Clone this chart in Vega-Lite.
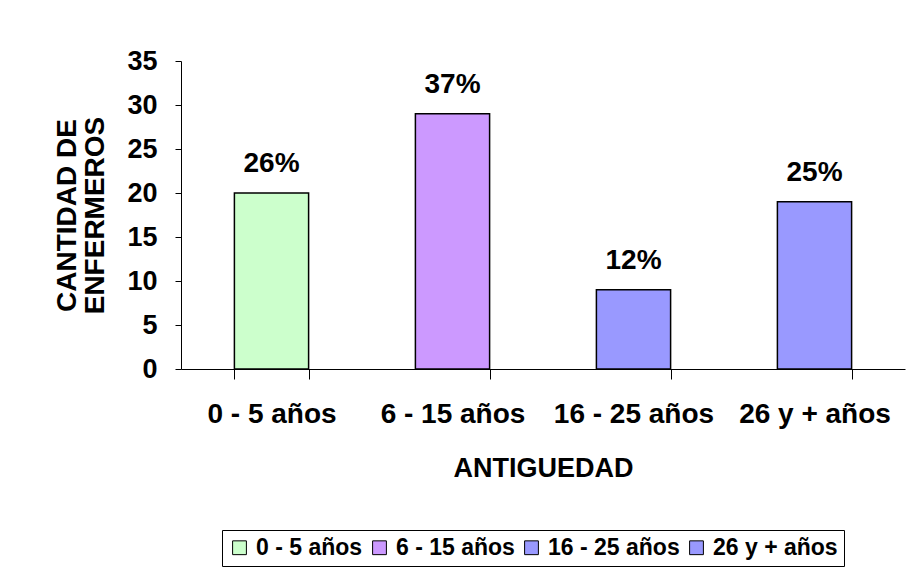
{
  "$schema": "https://vega.github.io/schema/vega-lite/v6.json",
  "autosize": "none",
  "width": 724,
  "height": 308,
  "padding": {"left": 181, "top": 61, "right": 1, "bottom": 199},
  "background": "white",
  "config": {
    "font": "Liberation Sans",
    "view": {"stroke": null},
    "axis": {"labelFont": "Liberation Sans", "titleFont": "Liberation Sans"}
  },
  "data": {
    "values": [
      {"antiguedad": "0 - 5 años", "cantidad": 20, "porcentaje": "26%"},
      {"antiguedad": "6 - 15 años", "cantidad": 29, "porcentaje": "37%"},
      {"antiguedad": "16 - 25 años", "cantidad": 9, "porcentaje": "12%"},
      {"antiguedad": "26 y + años", "cantidad": 19, "porcentaje": "25%"}
    ]
  },
  "encoding": {
    "x": {
      "field": "antiguedad",
      "type": "nominal",
      "sort": null,
      "scale": {"paddingInner": 0.59, "paddingOuter": 0.295},
      "axis": {
        "title": "ANTIGUEDAD",
        "titleFontSize": 27,
        "titleFontWeight": "bold",
        "titleColor": "black",
        "titlePadding": 27,
        "labelAngle": 0,
        "labelFontSize": 28,
        "labelFontWeight": "bold",
        "labelColor": "black",
        "labelPadding": 21,
        "tickBand": "extent",
        "tickSize": 10,
        "tickColor": "black",
        "domainColor": "black",
        "grid": false
      }
    },
    "y": {
      "field": "cantidad",
      "type": "quantitative",
      "scale": {"domain": [0, 35]},
      "axis": {
        "title": ["CANTIDAD DE", "ENFERMEROS"],
        "titleFontSize": 28,
        "titleFontWeight": "bold",
        "titleColor": "black",
        "titleLineHeight": 28,
        "titlePadding": 17,
        "values": [0, 5, 10, 15, 20, 25, 30, 35],
        "labelFontSize": 27,
        "labelFontWeight": "bold",
        "labelColor": "black",
        "labelPadding": 18,
        "tickSize": 6,
        "tickColor": "black",
        "domainColor": "black",
        "grid": false
      }
    }
  },
  "layer": [
    {
      "mark": {"type": "bar", "stroke": "black", "strokeWidth": 1.5},
      "encoding": {
        "color": {
          "field": "antiguedad",
          "type": "nominal",
          "sort": null,
          "scale": {"range": ["#CCFFCC", "#CC99FF", "#9999FF", "#9999FF"]},
          "legend": {
            "title": null,
            "orient": "none",
            "direction": "horizontal",
            "legendX": 41,
            "legendY": 469,
            "columns": 4,
            "symbolType": "square",
            "symbolSize": 190,
            "symbolStrokeColor": "black",
            "symbolStrokeWidth": 1,
            "labelFontSize": 23,
            "labelFontWeight": "bold",
            "labelColor": "black",
            "labelFont": "Liberation Sans",
            "labelLimit": 300,
            "labelOffset": 5,
            "columnPadding": 5,
            "strokeColor": "black",
            "fillColor": "white",
            "padding": 6
          }
        }
      }
    },
    {
      "mark": {"type": "text", "baseline": "bottom", "dy": -15, "fontSize": 28, "fontWeight": "bold", "color": "black"},
      "encoding": {"text": {"field": "porcentaje", "type": "nominal"}}
    }
  ]
}
